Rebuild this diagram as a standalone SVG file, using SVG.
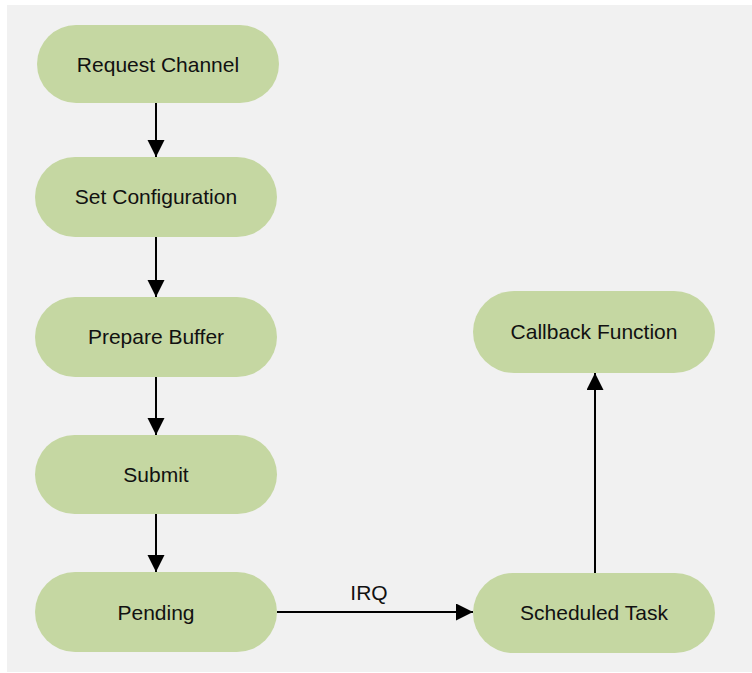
<svg xmlns="http://www.w3.org/2000/svg" width="752" height="673" viewBox="0 0 752 673">
  <style>
    .node rect { fill: #c5d7a2; }
    .node text { font-family: "Liberation Sans", Arial, sans-serif; font-size: 21px; fill: #111; text-anchor: middle; }
    .edge { stroke: #000; stroke-width: 2; fill: none; marker-end: url(#arrow); }
    .label { font-family: "Liberation Sans", Arial, sans-serif; font-size: 21px; fill: #111; text-anchor: middle; }
  </style>
  <defs>
    <marker id="arrow" markerUnits="userSpaceOnUse" markerWidth="18" markerHeight="18" refX="17" refY="8.5" orient="auto">
      <path d="M0,0 L17,8.5 L0,17 Z" fill="#000"/>
    </marker>
  </defs>

  <rect width="752" height="673" fill="#ffffff"/>
  <rect x="7" y="5" width="745" height="667" fill="#f1f1f1"/>

  <g id="connectors">
    <line class="edge" x1="156" y1="103" x2="156" y2="157"/>
    <line class="edge" x1="156" y1="237" x2="156" y2="297"/>
    <line class="edge" x1="156" y1="377" x2="156" y2="435"/>
    <line class="edge" x1="156" y1="514" x2="156" y2="572"/>
    <line class="edge" x1="277" y1="612" x2="473" y2="612"/>
    <text class="label" x="369" y="600">IRQ</text>
    <line class="edge" x1="595" y1="573" x2="595" y2="373"/>
  </g>

  <g id="request-channel" class="node">
    <rect x="37" y="25" width="242" height="78" rx="39"/>
    <text x="158" y="72">Request Channel</text>
  </g>
  <g id="set-configuration" class="node">
    <rect x="35" y="157" width="242" height="80" rx="40"/>
    <text x="156" y="204">Set Configuration</text>
  </g>
  <g id="prepare-buffer" class="node">
    <rect x="35" y="297" width="242" height="80" rx="40"/>
    <text x="156" y="344">Prepare Buffer</text>
  </g>
  <g id="submit" class="node">
    <rect x="35" y="435" width="242" height="79" rx="39.5"/>
    <text x="156" y="482">Submit</text>
  </g>
  <g id="pending" class="node">
    <rect x="35" y="572" width="242" height="80" rx="40"/>
    <text x="156" y="620">Pending</text>
  </g>
  <g id="callback-function" class="node">
    <rect x="473" y="291" width="242" height="82" rx="41"/>
    <text x="594" y="339">Callback Function</text>
  </g>
  <g id="scheduled-task" class="node">
    <rect x="473" y="573" width="242" height="80" rx="40"/>
    <text x="594" y="620">Scheduled Task</text>
  </g>
</svg>
